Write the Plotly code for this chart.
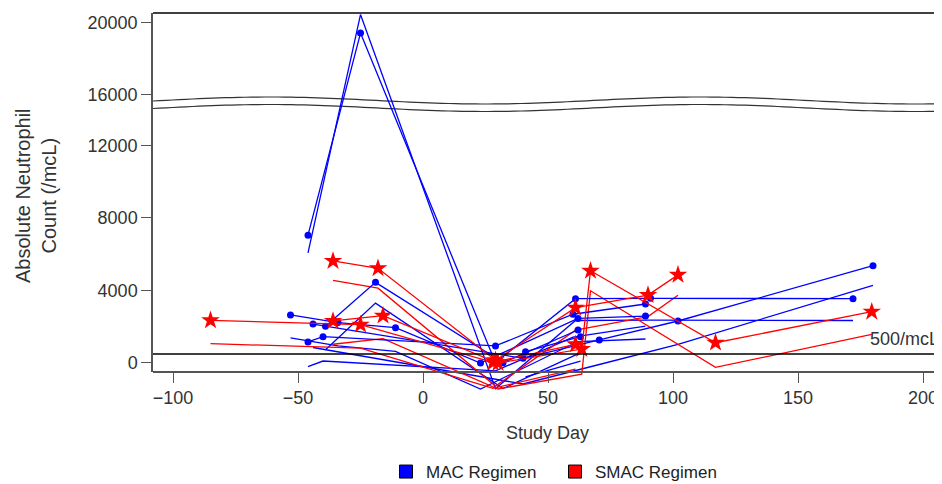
import math
import plotly.graph_objects as go

# ---------------- data ----------------
mac_days = [
    [-46, -25, 29, 61, 91, 172],
    [-53, -34, -11, 23, 62, 89],
    [-39, -19, 32, 62],
    [-46, -40, 29, 60, 89],
    [-44, 40, 70.5, 102, 180],
    [41, 63],
]
mac_anc = [
    [7050, 19400, 20, 3550, 3570, 3550],
    [2650, 2230, 1950, 0, 2460, 2590],
    [2030, 4450, 20, 1820],
    [1160, 1450, 940, 2690, 3255],
    [2150, 260, 1270, 2317, 5370],
    [625, 1450],
]
smac_days = [
    [-85, -25, 28, 61],
    [-36, -18, 29, 61, 90, 102],
    [-36, -16, 30, 63.5, 67, 117, 179.5],
]
smac_anc = [
    [2350, 2115, 30, 1030],
    [5630, 5225, 150, 3050, 3750, 4860],
    [2320, 2610, 0, 770, 5090, 1120, 2830],
]
y_tick_vals = [0, 4000, 8000, 12000, 16000, 20000]
x_tick_vals = [-100, -50, 0, 50, 100, 150, 200]
threshold = 500
legend_names = ["MAC Regimen", "SMAC Regimen"]

# axis break: values above BREAK are drawn shifted down by GAP
BREAK = 15000
GAP = 1200


def brk(v):
    return v - GAP if v > BREAK else v


BLUE = "#0000ff"
RED = "#ff0000"
FONT = "Liberation Sans, Arial, sans-serif"

fig = go.Figure()

groups = [(mac_days, mac_anc, BLUE, "circle", 7),
          (smac_days, smac_anc, RED, "star", 14)]

# offset duplicate lines (drawn on the secondary, unbroken scale)
for days, anc, col, sym, sz in groups:
    for d, a in zip(days, anc):
        fig.add_trace(go.Scatter(x=d, y=a, mode="lines", xaxis="x", yaxis="y",
                                 line=dict(color=col, width=1.3),
                                 showlegend=False, hoverinfo="skip"))

# main lines + markers on the broken axis
for days, anc, col, sym, sz in groups:
    for d, a in zip(days, anc):
        fig.add_trace(go.Scatter(x=d, y=[brk(v) for v in a], mode="lines+markers",
                                 xaxis="x", yaxis="y2",
                                 line=dict(color=col, width=1.3),
                                 marker=dict(color=col, symbol=sym, size=sz, line=dict(width=0)),
                                 showlegend=False, cliponaxis=False))

# legend entries
for name, col in zip(legend_names, [BLUE, RED]):
    fig.add_trace(go.Scatter(x=[None], y=[None], mode="markers", name=name,
                             xaxis="x", yaxis="y2",
                             marker=dict(color=col, symbol="square", size=13,
                                         line=dict(color="black", width=1))))

# ---------------- layout geometry ----------------
# page body has an 8px margin; window-pixel positions below are converted
OFF = 8
FW, FH = 942 - OFF, 484 - OFF
WL, WR, WT, WB = 153, 942, 13, 392          # plotting area in window pixels
L, R, T, B = WL - OFF, WR - OFF, WT - OFF, WB - OFF


def px(x):
    return (x - OFF - L) / (R - L)


def py(y):
    return (B - (y - OFF)) / (B - T)


main_bottom = py(372)

# wavy break band
xs = [WL + i * (WR - WL) / 120 for i in range(121)]
upper = [100.5 - 3.5 * math.cos(2 * math.pi * (x - 270) / 430) for x in xs]
lower = [u + 7.5 for u in upper]


def path_of(pts):
    return "M " + " L ".join(f"{px(x):.5f},{py(y):.5f}" for x, y in pts)


band = path_of(list(zip(xs, upper)) + list(zip(xs[::-1], lower[::-1]))) + " Z"
shapes = [
    dict(type="path", path=band, xref="paper", yref="paper", fillcolor="white",
         line=dict(width=0), layer="below"),
    dict(type="path", path=path_of(list(zip(xs, upper))), xref="paper", yref="paper",
         line=dict(color="#333333", width=1.2), layer="below"),
    dict(type="path", path=path_of(list(zip(xs, lower))), xref="paper", yref="paper",
         line=dict(color="#333333", width=1.2), layer="below"),
    # top frame line
    dict(type="line", xref="paper", yref="paper", x0=0, x1=1, y0=1, y1=1,
         line=dict(color="black", width=1.5)),
    # 500/mcL reference line
    dict(type="line", xref="paper", yref="y2", x0=0, x1=1, y0=threshold, y1=threshold,
         line=dict(color="black", width=1.5)),
]

fig.update_layout(
    width=FW, height=FH,
    margin=dict(l=L, r=FW - R, t=T, b=FH - B, autoexpand=False),
    paper_bgcolor="white", plot_bgcolor="rgba(0,0,0,0)",
    font=dict(family=FONT, color="#333333"),
    showlegend=True,
    legend=dict(orientation="h", x=px(386), y=py(472), xanchor="left", yanchor="middle",
                font=dict(size=17, color="#222222"), itemwidth=30,
                entrywidth=124, entrywidthmode="pixels", bgcolor="rgba(0,0,0,0)"),
    xaxis=dict(domain=[0, 1], range=[-108.0, 207.6], anchor="free", position=main_bottom,
               tickvals=x_tick_vals, ticks="outside", ticklen=10, tickwidth=1.3,
               tickcolor="#555555", showline=True, linecolor="#555555", linewidth=1.5,
               showgrid=False, zeroline=False, automargin=False,
               tickfont=dict(size=18, color="#333333")),
    yaxis=dict(domain=[0, 1], range=[-155, 19482], visible=False, fixedrange=True,
               automargin=False),
    yaxis2=dict(domain=[main_bottom, 1], range=[-497, 19310], anchor="x",
                tickvals=[brk(v) for v in y_tick_vals], ticktext=[str(v) for v in y_tick_vals],
                ticks="outside", ticklen=10, tickwidth=1.3, tickcolor="#555555",
                showline=True, linecolor="#555555", linewidth=1.5, automargin=False,
                showgrid=False, zeroline=False, tickfont=dict(size=18, color="#333333")),
    shapes=shapes,
    annotations=[
        dict(text="500/mcL", xref="x", yref="y2", x=207, y=1320, xanchor="right",
             yanchor="middle", showarrow=False, font=dict(size=18, color="#333333")),
        dict(text="Study Day", xref="paper", yref="paper", x=px(547), y=py(433),
             xanchor="center", yanchor="middle", showarrow=False,
             font=dict(size=18, color="#333333")),
        dict(text="Absolute Neutrophil<br>Count (/mcL)", xref="paper", yref="paper",
             x=px(36), y=py(196), xanchor="center", yanchor="middle", textangle=-90,
             showarrow=False, font=dict(size=20, color="#333333")),
    ],
)

fig.write_html("out.html")
